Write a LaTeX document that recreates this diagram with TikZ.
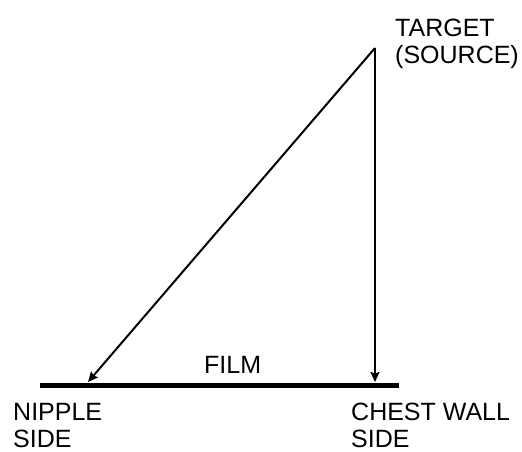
\documentclass[tikz,border=0pt]{standalone}
\usepackage{fontspec}
\setmainfont{Liberation Sans}
\usetikzlibrary{arrows.meta,positioning}
\tikzset{
  lbl/.style={align=left, inner sep=0pt, font=\fontsize{25}{27.5}\selectfont},
  ray/.style={-{Stealth[length=10pt,width=9pt,inset=1.5pt]}, line width=2pt},
  filmline/.style={line width=5pt}
}

\begin{document}
\begin{tikzpicture}[x=1pt, y=-1pt]
\useasboundingbox (0,0) rectangle (522,452);
\coordinate (src) at (375,48);
\coordinate (fl) at (40,385);
\coordinate (fr) at (399,385);
\coordinate (nip) at (88,382);
\coordinate (chest) at (375,382);

% labels: anchor on the baseline of the last line
\node[lbl, anchor=base west] (tgt) at (395,63.5) {TARGET\\(SOURCE)};
\node[lbl, anchor=base west] (film) at (204,373) {FILM};
\node[lbl, anchor=base west] (nipple) at (13,447.5) {NIPPLE\\SIDE};
\node[lbl, anchor=base west] (wall) at (351,447.5) {CHEST WALL\\SIDE};

\draw[filmline] (fl) -- (fr);
\draw[ray] (src) -- (nip);
\draw[ray] (src) -- (chest);
\end{tikzpicture}
\end{document}
